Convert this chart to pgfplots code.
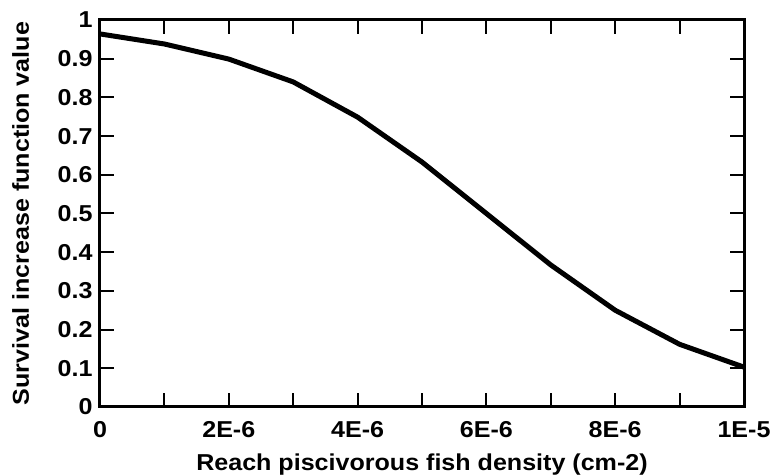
\documentclass[border=0pt]{standalone}
\usepackage{pgfplots}
\pgfplotsset{compat=1.18}
\usepackage{fontspec}
\setmainfont{Liberation Sans}[FakeStretch=1.09]
\begin{document}
\begin{tikzpicture}
\begin{axis}[
  scale only axis,
  width=644pt, height=387pt,
  xmin=0, xmax=10, ymin=0, ymax=1,
  xtick={0,1,...,10},
  xticklabels={0,,2E-6,,4E-6,,6E-6,,8E-6,,1E-5},
  ytick={0,0.1,...,1.0},
  yticklabels={0,0.1,0.2,0.3,0.4,0.5,0.6,0.7,0.8,0.9,1},
  tick align=inside,
  major tick length=14pt,
  tick style={line width=2pt, black},
  axis line style={line width=3pt},
  xticklabel style={font=\fontsize{23}{27}\selectfont\bfseries, yshift=-11pt},
  yticklabel style={font=\fontsize{23}{27}\selectfont\bfseries, xshift=-4pt},
  /pgf/number format/assume math mode=true,
  xlabel={\fontsize{23}{27}\selectfont\bfseries Reach piscivorous fish density (cm-2)},
  ylabel={\fontsize{23}{27}\selectfont\bfseries Survival increase function value},
  xlabel style={at={([yshift=-64pt]axis description cs:0.5,0)}, anchor=base},
  ylabel style={at={([xshift=-71pt]axis description cs:0,0.5)}, anchor=base},
  clip=false,
]
\addplot[black, line width=5pt, line join=round] coordinates {
(0,0.964) (1,0.938) (2,0.899) (3,0.840) (4,0.749) (5,0.633) (6,0.500) (7,0.367) (8,0.250) (9,0.162) (10,0.103)
};
\end{axis}
\pgfresetboundingbox
\path[use as bounding box] ([shift={(-100pt,-69pt)}]current axis.south west) rectangle ([shift={(30pt,20pt)}]current axis.north east);
\end{tikzpicture}
\end{document}
